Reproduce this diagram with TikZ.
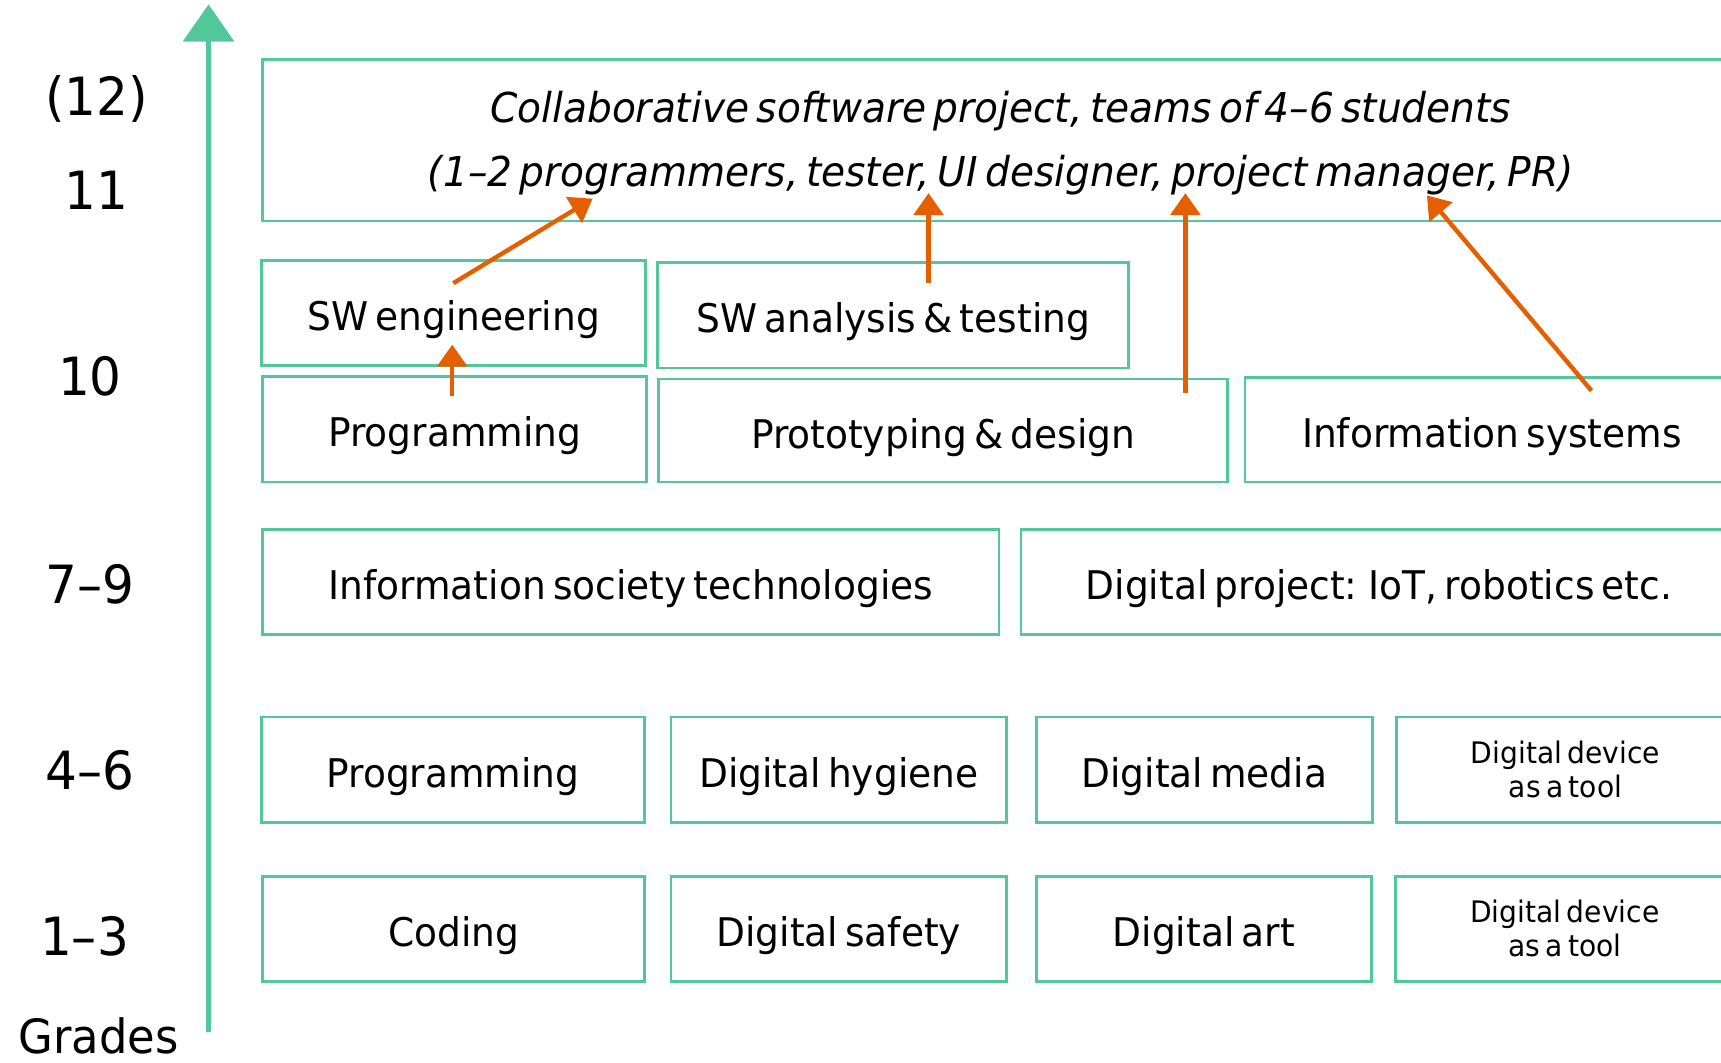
\documentclass[tikz,border=0pt]{standalone}
\usepackage{fontspec}
\setmainfont{DejaVu Sans}[FakeStretch=0.95,WordSpace=0.6]
\usetikzlibrary{arrows.meta}
\definecolor{mint}{RGB}{82,199,154}
\definecolor{burnt}{RGB}{228,95,0}
\tikzset{
  frame/.style={draw=mint, line width=2.5pt, anchor=north west, inner sep=0pt, align=center},
  box/.style={frame, text height=34pt, text depth=2pt, font=\fontsize{36}{43}\selectfont},
  smallbox/.style={frame, font=\fontsize{27}{31}\selectfont},
  grade/.style={font=\fontsize{48}{56}\selectfont, inner sep=0pt},
  link/.style={draw=burnt, line width=4pt, -{Triangle[length=20pt,width=27pt]}},
  axis/.style={draw=mint, line width=5pt, -{Triangle[length=34pt,width=46pt]}}
}
\begin{document}
\begin{tikzpicture}[x=1pt,y=-1pt]
\useasboundingbox (0,0) rectangle (1568,968);
\clip (0,0) rectangle (1568,968);
% axis
\coordinate (axbot) at (190,940);
\coordinate (axtop) at (190,4);
\draw[axis] (axbot) -- (axtop);
% grade labels
\node[grade] (g12) at (88,90) {(12)};
\node[grade] (g11) at (88,173) {11};
\node[grade] (g10) at (82,343) {10};
\node[grade] (g79) at (82,532) {7–9};
\node[grade] (g46) at (82,702) {4–6};
\node[grade] (g13) at (77,853) {1–3};
\node[grade, font=\fontsize{43}{50}\selectfont] (grades) at (90,944) {Grades};
% boxes
\node[frame, minimum width=1345pt, minimum height=147pt, text depth=2pt,
  font=\fontsize{37.5}{58}\selectfont\itshape] (top) at (238,53)
  {Collaborative software project, teams of 4–6 students\\(1–2 programmers, tester, UI designer, project manager, PR)};
\node[box, minimum width=350pt, minimum height=96pt] (sweng) at (237,236) {SW engineering};
\node[box, minimum width=429pt, minimum height=96pt] (swana) at (598,238) {SW analysis \& testing};
\node[box, minimum width=350pt, minimum height=96pt] (prog10) at (238,342) {Programming};
\node[box, minimum width=518pt, minimum height=94pt] (proto) at (599,344) {Prototyping \& design};
\node[box, minimum width=450pt, minimum height=95pt] (infosys) at (1133,343) {Information systems};
\node[box, minimum width=671pt, minimum height=96pt] (ist) at (238,481) {Information society technologies};
\node[box, minimum width=652pt, minimum height=96pt] (dproj) at (929,481) {Digital project: IoT, robotics etc.};
\node[box, minimum width=349pt, minimum height=96pt] (prog46) at (237,652) {Programming};
\node[box, minimum width=306pt, minimum height=96pt] (hyg) at (610,652) {Digital hygiene};
\node[box, minimum width=306pt, minimum height=96pt] (media) at (943,652) {Digital media};
\node[smallbox, minimum width=308pt, minimum height=96pt] (dev1) at (1271,652) {Digital device\\as a tool};
\node[box, minimum width=348pt, minimum height=96pt] (coding) at (238,797) {Coding};
\node[box, minimum width=306pt, minimum height=96pt] (safety) at (610,797) {Digital safety};
\node[box, minimum width=305pt, minimum height=96pt] (art) at (943,797) {Digital art};
\node[smallbox, minimum width=309pt, minimum height=96pt] (dev2) at (1270,797) {Digital device\\as a tool};
% arrow endpoints
\coordinate (a1s) at (413,258);
\coordinate (a1e) at (540,181);
\coordinate (a2s) at (412,361);
\coordinate (a2e) at (412,314);
\coordinate (a3s) at (846,258);
\coordinate (a3e) at (846,176);
\coordinate (a4s) at (1080,358);
\coordinate (a4e) at (1080,176);
\coordinate (a5s) at (1450,356);
\coordinate (a5e) at (1300,178);
\draw[link] (a1s) -- (a1e);
\draw[link] (a2s) -- (a2e);
\draw[link] (a3s) -- (a3e);
\draw[link] (a4s) -- (a4e);
\draw[link] (a5s) -- (a5e);
\end{tikzpicture}
\end{document}
